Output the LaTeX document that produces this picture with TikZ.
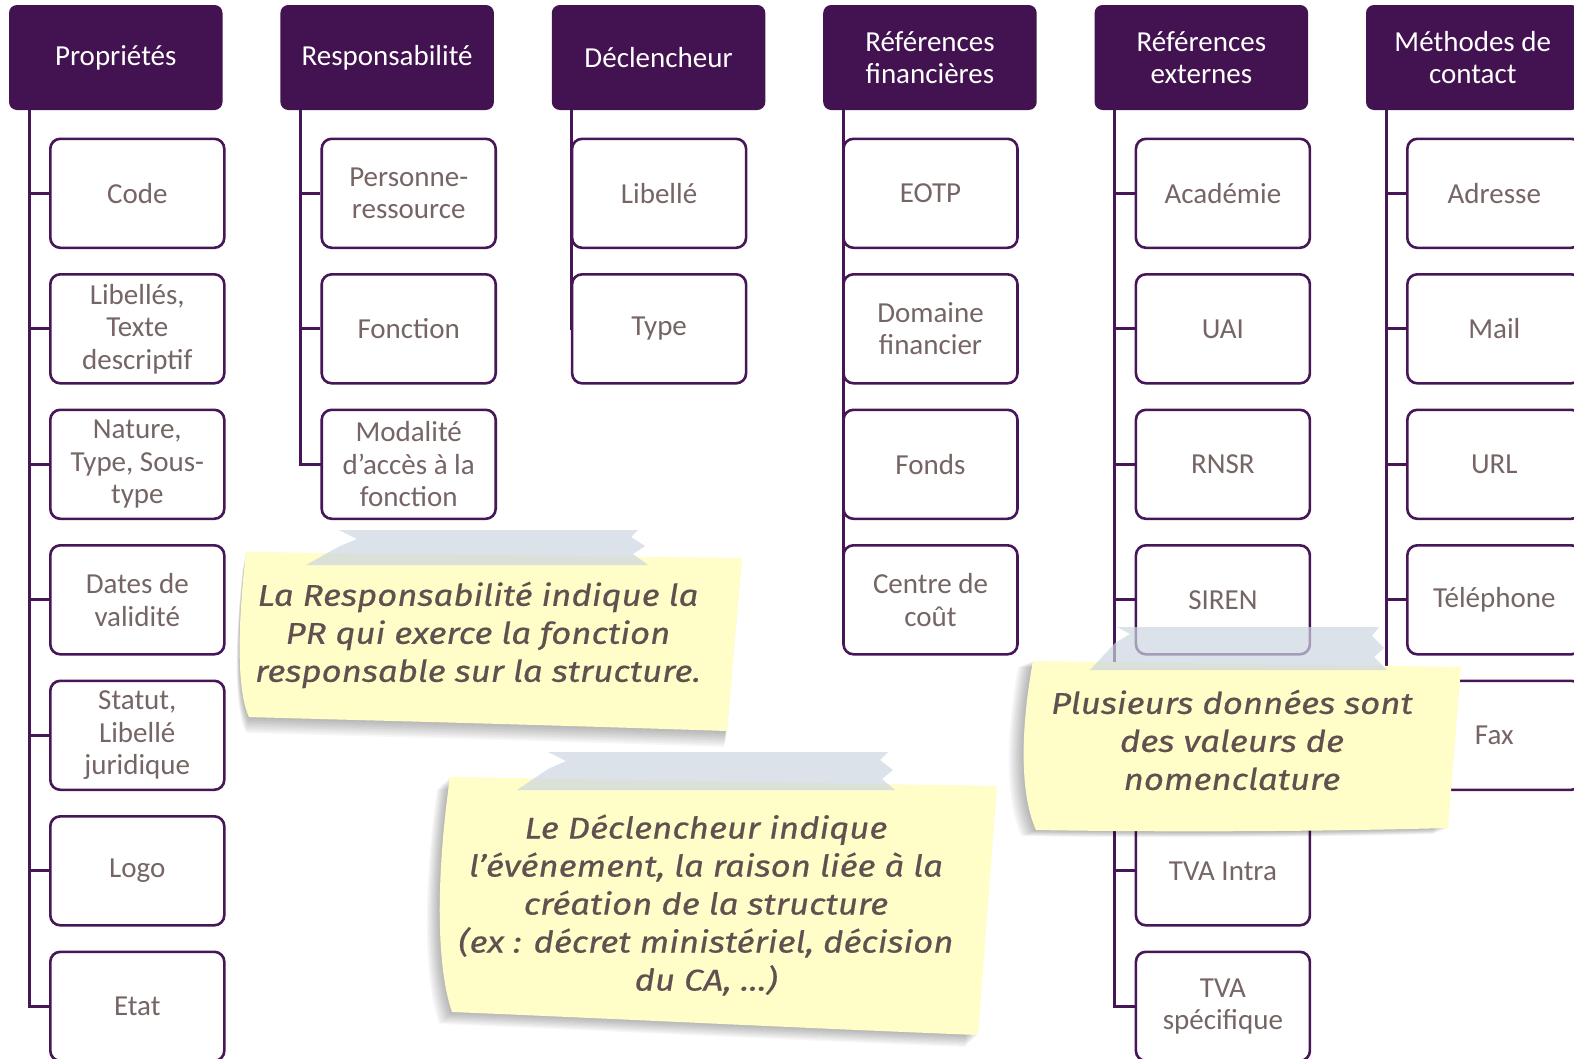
\documentclass[tikz,border=0pt]{standalone}
\usepackage{fontspec}
\setmainfont{Carlito}
\newfontfamily\notefont{Fira Sans}[FakeStretch=1.16,FakeBold=0.5]
\definecolor{hdrc}{HTML}{431250}
\definecolor{boxc}{HTML}{461657}
\definecolor{txtc}{HTML}{766565}
\definecolor{notetxt}{HTML}{605050}
\definecolor{notey}{HTML}{FFFDC8}
\definecolor{tapec}{RGB}{205,214,225}
\tikzset{
 hdr/.style={rectangle, rounded corners=8pt, fill=hdrc, text=white, minimum width=213.5pt, minimum height=105pt, inner sep=0pt, align=center, font=\fontsize{29}{32.5}\selectfont},
 item/.style={rectangle, rounded corners=10pt, draw=boxc, line width=2.6pt, fill=white, text=txtc, minimum width=174pt, minimum height=109pt, inner sep=0pt, align=center, font=\fontsize{29}{32.5}\selectfont},
 conn/.style={draw=boxc, line width=3pt},
 notetext/.style={text=notetxt, align=center, font=\notefont\itshape\fontsize{30}{38}\selectfont, inner sep=0pt},
 notefill/.style={fill=notey},
 tape/.style={fill=tapec, fill opacity=0.7},
 shadowfill/.style={fill=black, opacity=0.03},
}
\begin{document}
\begin{tikzpicture}[x=1pt,y=-1pt]
\path[use as bounding box] (0,0) rectangle (1574,1058);
\clip (0,0) rectangle (1574,1058);
% headers
\node[hdr] (h1) at (115.75,57.5) {Propriétés};
\node[hdr] (h2) at (387.15,57.5) {Responsabilité};
\node[hdr] (h3) at (658.55,57.5) {Déclencheur};
\node[hdr] (h4) at (929.95,57.5) {Références\\financières};
\node[hdr] (h5) at (1201.35,57.5) {Références\\externes};
\node[hdr] (h6) at (1472.75,57.5) {Méthodes de\\contact};
\foreach \i in {1,...,6}{\coordinate (t\i) at ([xshift=20.3pt]h\i.south west);}
% connectors
\draw[conn] (t1) |- (137.3,1006.3);
\draw[conn] (t2) |- (408.7,464.3);
\draw[conn] (t3) |- (659.1,328.8);
\draw[conn] (t4) |- (930.5,599.8);
\draw[conn] (t5) |- (1222.9,1006.3);
\draw[conn] (t6) |- (1494.3,735.3);
% items
\node[item] (c1-1) at (137.3,193.3) {Code};
\node[item] (c1-2) at (137.3,328.8) {Libellés,\\Texte\\descriptif};
\node[item] (c1-3) at (137.3,464.3) {Nature,\\Type, Sous-\\type};
\node[item] (c1-4) at (137.3,599.8) {Dates de\\validité};
\node[item] (c1-5) at (137.3,735.3) {Statut,\\Libellé\\juridique};
\node[item] (c1-6) at (137.3,870.8) {Logo};
\node[item] (c1-7) at (137.3,1006.3) {Etat};
\node[item] (c2-1) at (408.7,193.3) {Personne-\\ressource};
\node[item] (c2-2) at (408.7,328.8) {Fonction};
\node[item] (c2-3) at (408.7,464.3) {Modalité\\d’accès à la\\fonction};
\node[item] (c3-1) at (659.1,193.3) {Libellé};
\node[item] (c3-2) at (659.1,328.8) {Type};
\node[item] (c4-1) at (930.5,193.3) {EOTP};
\node[item] (c4-2) at (930.5,328.8) {Domaine\\financier};
\node[item] (c4-3) at (930.5,464.3) {Fonds};
\node[item] (c4-4) at (930.5,599.8) {Centre de\\coût};
\node[item] (c5-1) at (1222.9,193.3) {Académie};
\node[item] (c5-2) at (1222.9,328.8) {UAI};
\node[item] (c5-3) at (1222.9,464.3) {RNSR};
\node[item] (c5-4) at (1222.9,599.8) {SIREN};
\node[item] (c5-6) at (1222.9,870.8) {TVA Intra};
\node[item] (c5-7) at (1222.9,1006.3) {TVA\\spécifique};
\node[item] (c6-1) at (1494.3,193.3) {Adresse};
\node[item] (c6-2) at (1494.3,328.8) {Mail};
\node[item] (c6-3) at (1494.3,464.3) {URL};
\node[item] (c6-4) at (1494.3,599.8) {Téléphone};
\node[item] (c6-5) at (1494.3,735.3) {Fax};
% ticks
\foreach \k in {1,...,7}{\draw[conn] (c1-\k.west) -- (c1-\k.west -| t1);}
\foreach \k in {1,2,3}{\draw[conn] (c2-\k.west) -- (c2-\k.west -| t2);}
\foreach \k in {1,2,3,4,6,7}{\draw[conn] (c5-\k.west) -- (c5-\k.west -| t5);}
\foreach \k in {1,...,5}{\draw[conn] (c6-\k.west) -- (c6-\k.west -| t6);}
% note 1
\foreach \s in {1,...,10}{
 \fill[shadowfill, shift={(-0.3*\s,1.6*\s)}] (246,552) -- (742,558) -- (727,731) .. controls (520,724) and (350,720) .. (249,717) .. controls (236,690) and (238,620) .. (246,552) -- cycle;}
\fill[notefill] (246,552) -- (742,558) -- (727,731) .. controls (520,724) and (350,720) .. (249,717) .. controls (236,690) and (238,620) .. (246,552) -- cycle;
\fill[tape] (339,530) -- (638,530) -- (631,537) -- (645,546) -- (633,554) -- (648,565) -- (306,565) -- (340,546) -- (357,539) -- cycle;
\node[notetext] (n1) at (478,635) {La Responsabilité indique la\\PR qui exerce la fonction\\responsable sur la structure.};
% note 2
\foreach \s in {1,...,10}{
 \fill[shadowfill, shift={(-1.3*\s,1.2*\s)}] (450,777) -- (997,786) -- (978,1035) .. controls (800,1028) and (600,1018) .. (452,1012) .. controls (434,960) and (438,860) .. (450,777) -- cycle;}
\fill[notefill] (450,777) -- (997,786) -- (978,1035) .. controls (800,1028) and (600,1018) .. (452,1012) .. controls (434,960) and (438,860) .. (450,777) -- cycle;
\fill[tape] (548,752) -- (888,752) -- (880,760) -- (893,770) -- (882,779) -- (895,790) -- (517,790) -- (548,769) -- (566,761) -- cycle;
\node[notetext] (n2) at (706,905) {Le Déclencheur indique\\l’événement, la raison liée à la\\création de la structure\\(ex : décret ministériel, décision\\du CA, …)};
% note 3
\foreach \s in {1,...,10}{
 \fill[shadowfill, shift={(-1.5*\s,0.6*\s)}] (1033,661) -- (1461,667) -- (1448,828) .. controls (1300,832) and (1150,832) .. (1036,830) .. controls (1018,790) and (1022,720) .. (1033,661) -- cycle;}
\fill[notefill] (1033,661) -- (1461,667) -- (1448,828) .. controls (1300,832) and (1150,832) .. (1036,830) .. controls (1018,790) and (1022,720) .. (1033,661) -- cycle;
\fill[tape] (1117,627) -- (1379,627) -- (1372,636) -- (1384,648) -- (1374,657) -- (1387,670) -- (1090,670) -- (1115,643) -- (1130,634) -- cycle;
\node[notetext] (n3) at (1232,740) {Plusieurs données sont\\des valeurs de\\nomenclature};
\end{tikzpicture}
\end{document}
